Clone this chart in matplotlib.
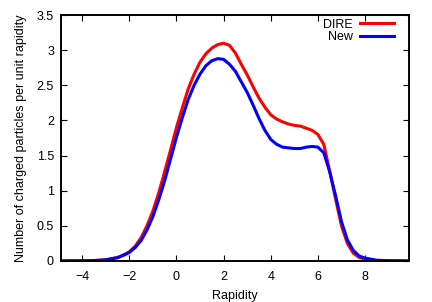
import matplotlib
matplotlib.use("Agg")
import matplotlib.pyplot as plt

rapidity = [-4.9, -4, -3.5, -3, -2.5, -2.25, -2, -1.75, -1.5, -1.25, -1, -0.75,
            -0.5, -0.25, 0, 0.25, 0.5, 0.75, 1, 1.25, 1.5, 1.75, 2, 2.25, 2.5,
            2.75, 3, 3.25, 3.5, 3.75, 4, 4.25, 4.5, 4.75, 5, 5.25, 5.5, 5.75,
            6, 6.25, 6.5, 6.75, 7, 7.25, 7.5, 7.75, 8, 8.5, 9, 9.85]

dire = [0.0, 0.002, 0.005, 0.016, 0.05, 0.085, 0.13, 0.21, 0.33, 0.50, 0.71,
        0.97, 1.27, 1.58, 1.90, 2.18, 2.45, 2.66, 2.83, 2.95, 3.03, 3.08, 3.10,
        3.07, 2.96, 2.80, 2.65, 2.48, 2.32, 2.19, 2.08, 2.02, 1.98, 1.95, 1.93,
        1.92, 1.89, 1.86, 1.80, 1.66, 1.28, 0.88, 0.50, 0.25, 0.11, 0.05,
        0.025, 0.005, 0.002, 0.0]

new = [0.0, 0.002, 0.005, 0.015, 0.045, 0.08, 0.12, 0.19, 0.29, 0.44, 0.63,
       0.87, 1.14, 1.45, 1.76, 2.04, 2.30, 2.50, 2.66, 2.78, 2.85, 2.88, 2.87,
       2.80, 2.70, 2.55, 2.40, 2.22, 2.03, 1.86, 1.73, 1.66, 1.62, 1.61, 1.60,
       1.60, 1.62, 1.63, 1.62, 1.54, 1.27, 0.93, 0.56, 0.30, 0.15, 0.07, 0.04,
       0.01, 0.003, 0.0]

plt.rcParams["font.family"] = ["Liberation Sans", "DejaVu Sans"]
plt.rcParams["font.size"] = 9

fig, ax = plt.subplots(figsize=(4.32, 3.02), dpi=100)
fig.subplots_adjust(left=0.141, right=0.946, top=0.95, bottom=0.136)

ax.plot(rapidity, dire, color="#ff0000", lw=2.2, label="DIRE")
ax.plot(rapidity, new, color="#0000ff", lw=2.2, label="New")

ax.set_xlim(-4.9, 9.85)
ax.set_ylim(0, 3.5)
ax.set_xticks([-4, -2, 0, 2, 4, 6, 8])
ax.set_yticks([0, 0.5, 1, 1.5, 2, 2.5, 3, 3.5])
ax.set_yticklabels(["0", "0.5", "1", "1.5", "2", "2.5", "3", "3.5"])
ax.tick_params(direction="in", top=True, right=True, length=4, width=0.8,
               pad=5)
ax.tick_params(axis="x", pad=7)
for s in ax.spines.values():
    s.set_linewidth(1.4)

ax.set_xlabel("Rapidity", labelpad=5)
ax.set_ylabel("Number of charged particles per unit rapidity", labelpad=7)

ax.legend(loc="upper right", frameon=False, markerfirst=False,
          bbox_to_anchor=(0.957, 0.985), borderaxespad=0, borderpad=0,
          handlelength=2.7, handletextpad=0.6, labelspacing=0.02)

fig.savefig("out.png", dpi=100)
